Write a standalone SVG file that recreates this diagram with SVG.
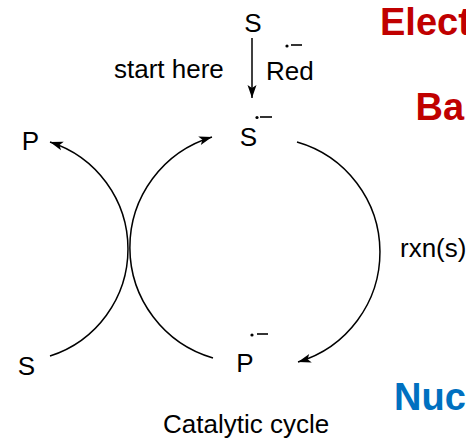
<svg xmlns="http://www.w3.org/2000/svg" width="466" height="440" viewBox="0 0 466 440">
<style>
.t{font-family:"Liberation Sans",Arial,sans-serif;font-size:26px;fill:#000}
.b{font-family:"Liberation Sans",Arial,sans-serif;font-size:38px;font-weight:bold}
.ln{fill:none;stroke:#000;stroke-width:1.5}
.rad{fill:none;stroke:#000;stroke-width:1.6}
</style>
<defs>
<marker id="ah" markerUnits="userSpaceOnUse" viewBox="-14 -6 15 12" refX="0" refY="0" markerWidth="15" markerHeight="12" orient="auto">
<path d="M0,0 L-13,-4.5 L-10,0 L-13,4.5 Z" fill="#000"/>
</marker>
</defs>
<rect width="466" height="440" fill="#fff"/>
<g id="connectors">
<line class="ln" x1="252" y1="38" x2="252" y2="98" marker-end="url(#ah)"/>
<path class="ln" d="M213,358 A115.2,115.2 0 0 1 212,137" marker-end="url(#ah)"/>
<path class="ln" d="M50,356 A112.4,112.4 0 0 0 50,142" marker-end="url(#ah)"/>
<path class="ln" d="M297,142 A114.6,114.6 0 0 1 298,362" marker-end="url(#ah)"/>
</g>
<g id="S-top"><text class="t" x="253" y="32" text-anchor="middle">S</text></g>
<g id="start-here"><text class="t" x="114" y="78">start here</text></g>
<g id="Red"><text class="t" x="266" y="80">Red</text>
<circle cx="287" cy="46" r="1.6"/><line class="rad" x1="291" y1="45" x2="302" y2="45"/></g>
<g id="S-radical"><text class="t" x="248.5" y="146" text-anchor="middle">S</text>
<circle cx="257" cy="117.5" r="1.6"/><line class="rad" x1="260" y1="117" x2="272" y2="117"/></g>
<g id="P-top"><text class="t" x="30.5" y="150" text-anchor="middle">P</text></g>
<g id="S-bottom"><text class="t" x="26.5" y="375" text-anchor="middle">S</text></g>
<g id="P-radical"><text class="t" x="245" y="372" text-anchor="middle">P</text>
<circle cx="252" cy="335" r="1.6"/><line class="rad" x1="257" y1="334" x2="268" y2="334"/></g>
<g id="rxn"><text class="t" x="400" y="257" font-size="25">rxn(s)</text></g>
<g id="caption"><text class="t" x="163" y="433">Catalytic cycle</text></g>
<g id="Elect"><text class="b" x="380" y="35" fill="#C00000">Elect</text></g>
<g id="Ba"><text class="b" x="415.5" y="120" fill="#C00000">Ba</text></g>
<g id="Nuc"><text class="b" x="394" y="410" fill="#0070C0">Nuc</text></g>
</svg>
